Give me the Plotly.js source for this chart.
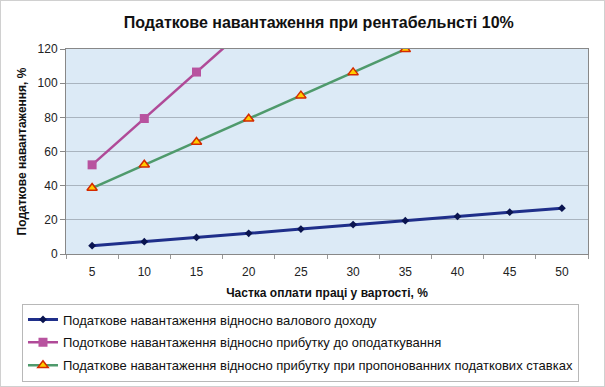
<!DOCTYPE html>
<html><head><meta charset="utf-8">
<script src="https://cdn.plot.ly/plotly-3.0.1.min.js"></script>
<style>
html,body{margin:0;padding:0;background:#fff;}
#wrap{width:605px;height:387px;box-sizing:border-box;border:1px solid #d0d0d0;overflow:hidden;}
#chart{width:603px;height:385px;overflow:hidden;}
</style></head>
<body><div id="wrap"><div id="chart"></div></div>
<script>
const categories = ['5','10','15','20','25','30','35','40','45','50'];
const grossIncomeLoad = [4.9, 7.2, 9.7, 12.1, 14.6, 17.2, 19.5, 22.0, 24.5, 26.8];
const profitLoad = [52.2, 79.3, 106.5, 133.6];
const proposedRatesLoad = [38.6, 52.2, 65.6, 79.2, 92.7, 106.3, 119.8, 133.4];
const seriesNames = [
  'Податкове навантаження відносно валового доходу',
  'Подоткове навантаження відносно прибутку до оподаткування',
  'Податкове навантаження відносно прибутку при пропонованних податкових ставках'
];

const traces = [
  {x: categories.slice(0, grossIncomeLoad.length), y: grossIncomeLoad, name: seriesNames[0], type:'scatter', mode:'lines+markers',
   legendgroup:'a', line:{color:'#1f2f8a', width:3}, marker:{symbol:'diamond', size:6, color:'#0a1450'}},
  {x: categories.slice(0, profitLoad.length), y: profitLoad, name: seriesNames[1], type:'scatter', mode:'lines+markers',
   legendgroup:'b', line:{color:'#b04a98', width:2.5}, marker:{symbol:'square', size:9, color:'#b8539f'}},
  {x: categories.slice(0, proposedRatesLoad.length), y: proposedRatesLoad, name: seriesNames[2], type:'scatter', mode:'lines+markers',
   legendgroup:'c', line:{color:'#4f9a6c', width:2.5}, marker:{symbol:'triangle-up', size:9, color:'#ffcc00', line:{color:'#d42a00', width:1.5}}}
];

const layout = {
  width: 603, height: 397,
  margin: {l: 65, r: 16, t: 48, b: 144},
  paper_bgcolor: '#ffffff',
  plot_bgcolor: '#dceaf6',
  font: {family: 'Liberation Sans, Arial, sans-serif', color: '#1a1a1a', size: 12},
  title: {text: '<b>Податкове навантаження при рентабельнсті 10%</b>', x: 0.527, xanchor: 'center',
          yref: 'container', y: 1 - 21/397, yanchor: 'middle',
          font: {size: 16, color: '#111'}},
  showlegend: true,
  legend: {x: -0.0843, xanchor: 'left', y: -0.2415, yanchor: 'top', bordercolor: '#b8b8b8', borderwidth: 1,
           font: {size: 13, color: '#111'}, tracegroupgap: 3, bgcolor:'#ffffff'},
  xaxis: {type: 'category', range: [-0.5, 9.5], tickson: 'boundaries', ticks: 'outside', ticklen: 4, tickcolor: '#999',
          ticklabelstandoff: 7,
          showgrid: false, showline: true, linecolor: '#888', linewidth: 1, mirror: true, zeroline:false,
          tickfont: {size: 12, color:'#222'},
          title: {text: '<b>Частка оплати праці у вартості, %</b>', font: {size: 12, color:'#111'}, standoff: 10}},
  yaxis: {range: [0, 120], dtick: 20, ticks: 'outside', ticklen: 5, tickcolor: '#888',
          showgrid: true, gridcolor: '#a9b4bf', gridwidth: 1, showline: true, linecolor: '#888', mirror: true, zeroline:false,
          tickfont: {size: 12, color:'#222'},
          title: {text: '<b>Податкове навантаження, %</b>', font: {size: 12, color:'#111'}, standoff: 8}}
};

Plotly.newPlot('chart', traces, layout, {displayModeBar: false, staticPlot: true});
</script></body></html>
